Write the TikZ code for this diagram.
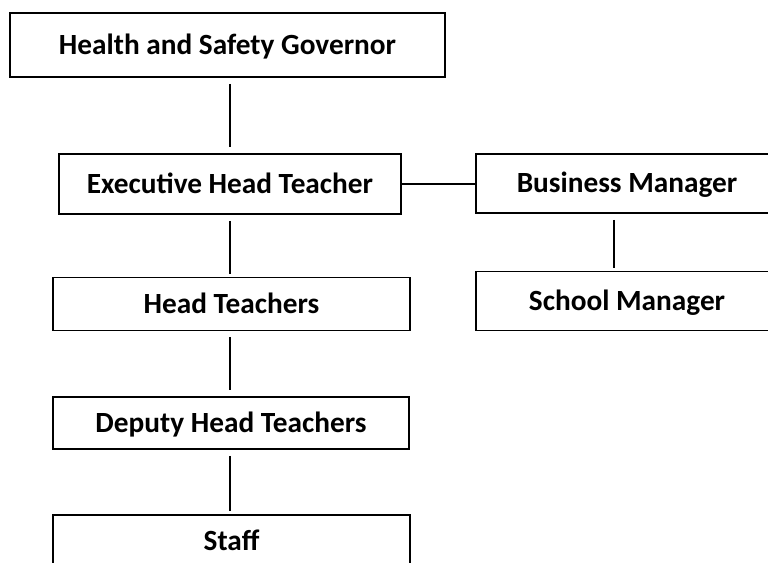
\documentclass[tikz,border=0pt]{standalone}
\usepackage{fontspec}
\setmainfont{Carlito}
\begin{document}
\begin{tikzpicture}[x=1pt,y=-1pt,
  box/.style={draw=black, line width=1.6pt, inner sep=0pt,
    font=\bfseries\fontsize{29.3}{29.3}\selectfont, text height=18.9pt, text depth=0pt},
  conn/.style={draw=black, line width=1.2pt}]
\useasboundingbox (0,0) rectangle (768,562);
\fill[white] (0,0) rectangle (768,562);
\clip (0,0) rectangle (768,562);
\node[box, minimum width=435pt, minimum height=64pt] (hsg) at (227.5,45) {Health and Safety Governor};
\node[box, minimum width=342pt, minimum height=60pt] (eht) at (230,184) {Executive Head Teacher};
\node[box, minimum width=302pt, minimum height=59pt] (bm) at (627,183.5) {Business Manager};
\node[box, minimum width=357pt, minimum height=53pt] (ht) at (231.5,304) {Head Teachers};
\node[box, minimum width=302pt, minimum height=59pt] (sm) at (627,301) {School Manager};
\node[box, minimum width=356pt, minimum height=52pt] (dht) at (231,423) {Deputy Head Teachers};
\node[box, minimum width=357pt, minimum height=52pt] (staff) at (231.5,541) {Staff};
\draw[conn, shorten <=6pt, shorten >=6pt] (hsg.south -| eht.north) -- (eht.north);
\draw[conn, shorten <=6pt, shorten >=3pt] (eht.south) -- (eht.south |- ht.north);
\draw[conn, shorten <=6pt, shorten >=6pt] (ht.south -| eht.south) -- (dht.north -| eht.south);
\draw[conn, shorten <=6pt, shorten >=3pt] (dht.south -| eht.south) -- (staff.north -| eht.south);
\draw[conn] (eht.east) -- (eht.east -| bm.west);
\draw[conn, shorten <=6pt, shorten >=3pt] ([xshift=-13pt]bm.south) -- ([xshift=-13pt]sm.north);
\end{tikzpicture}
\end{document}
